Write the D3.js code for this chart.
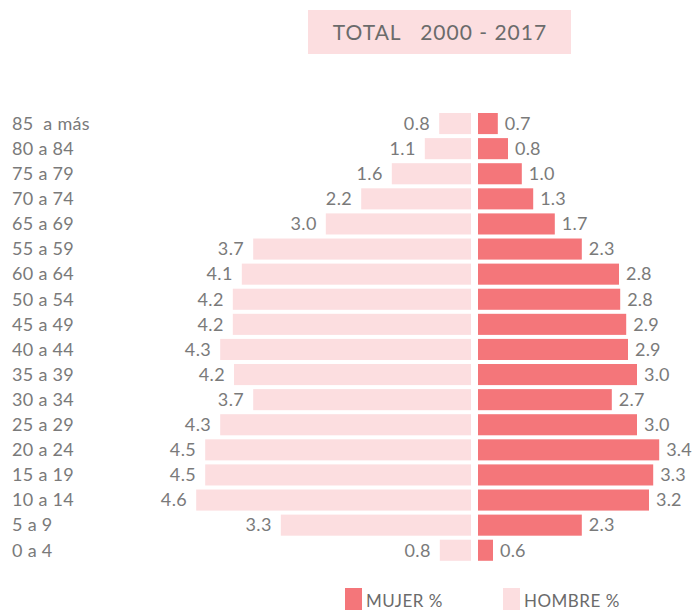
<!DOCTYPE html>
<html>
<head>
<meta charset="utf-8">
<script src="https://cdn.jsdelivr.net/npm/d3@7"></script>
<style>
  body { margin: 0; background: #fff; }
  svg text { font-family: "Lato", "Open Sans", sans-serif; }
</style>
</head>
<body>
<svg id="chart" width="692" height="610"></svg>
<script>
// age groups, top to bottom as in the picture
var grupos = ["85  a más", "80 a 84", "75 a 79", "70 a 74", "65 a 69", "55 a 59", "60 a 64",
              "50 a 54", "45 a 49", "40 a 44", "35 a 39", "30 a 34", "25 a 29", "20 a 24",
              "15 a 19", "10 a 14", "5 a 9", "0 a 4"];

// printed labels (%)
var hombreLbl = [0.8, 1.1, 1.6, 2.2, 3.0, 3.7, 4.1, 4.2, 4.2, 4.3, 4.2, 3.7, 4.3, 4.5, 4.5, 4.6, 3.3, 0.8];
var mujerLbl  = [0.7, 0.8, 1.0, 1.3, 1.7, 2.3, 2.8, 2.8, 2.9, 2.9, 3.0, 2.7, 3.0, 3.4, 3.3, 3.2, 2.3, 0.6];

// bar lengths as drawn (they don't follow the labels exactly)
var hombreBar = [0.53, 0.77, 1.32, 1.83, 2.42, 3.63, 3.82, 3.97, 3.97, 4.18, 3.95, 3.63, 4.18, 4.43, 4.43, 4.58, 3.17, 0.52];
var mujerBar  = [0.33, 0.50, 0.73, 0.92, 1.28, 1.73, 2.35, 2.37, 2.47, 2.50, 2.65, 2.23, 2.65, 3.02, 2.92, 2.85, 1.73, 0.25];

var colMujer = "#f4767a",
    colHombre = "#fcdee0",
    gris = "#7a7a7a";

var svg = d3.select("#chart");

var centroIzq = 471, centroDer = 478;

var x = d3.scaleLinear().domain([0, 4.6]).range([0, 276]);
var y = d3.scaleBand().domain(grupos).range([111, 562.8]).paddingInner(0.16).paddingOuter(0.08);

var rows = grupos.map(function (g, i) {
  return { g: g, hB: hombreBar[i], mB: mujerBar[i], hL: hombreLbl[i], mL: mujerLbl[i] };
});

// title box
svg.append("rect")
  .attr("x", 308).attr("y", 10).attr("width", 263).attr("height", 44)
  .attr("fill", colHombre);
svg.append("text")
  .attr("x", 440).attr("y", 39.5)
  .attr("text-anchor", "middle")
  .attr("fill", "#6b6b6b")
  .style("font-size", "21px")
  .style("letter-spacing", "1px")
  .style("white-space", "pre")
  .text("TOTAL   2000 - 2017");

// hombre bars (left)
svg.selectAll("rect.hombre")
  .data(rows).enter().append("rect")
  .attr("class", "hombre")
  .attr("x", function (d) { return centroIzq - x(d.hB); })
  .attr("y", function (d) { return y(d.g); })
  .attr("width", function (d) { return x(d.hB); })
  .attr("height", y.bandwidth())
  .attr("fill", colHombre);

// mujer bars (right)
svg.selectAll("rect.mujer")
  .data(rows).enter().append("rect")
  .attr("class", "mujer")
  .attr("x", centroDer)
  .attr("y", function (d) { return y(d.g); })
  .attr("width", function (d) { return x(d.mB); })
  .attr("height", y.bandwidth())
  .attr("fill", colMujer);

// value labels
svg.selectAll("text.lh")
  .data(rows).enter().append("text")
  .attr("class", "lh")
  .attr("x", function (d) { return centroIzq - x(d.hB) - 9; })
  .attr("y", function (d) { return y(d.g) + y.bandwidth() / 2; })
  .attr("dy", "0.35em")
  .attr("text-anchor", "end")
  .attr("fill", gris)
  .style("font-size", "18px")
  .style("letter-spacing", "0.4px")
  .text(function (d) { return d.hL.toFixed(1); });

svg.selectAll("text.lm")
  .data(rows).enter().append("text")
  .attr("class", "lm")
  .attr("x", function (d) { return centroDer + x(d.mB) + 7; })
  .attr("y", function (d) { return y(d.g) + y.bandwidth() / 2; })
  .attr("dy", "0.35em")
  .attr("fill", gris)
  .style("font-size", "18px")
  .style("letter-spacing", "0.2px")
  .text(function (d) { return d.mL.toFixed(1); });

// age group labels
svg.selectAll("text.grupo")
  .data(grupos).enter().append("text")
  .attr("class", "grupo")
  .attr("x", 12)
  .attr("y", function (d) { return y(d) + y.bandwidth() / 2; })
  .attr("dy", "0.35em")
  .attr("fill", gris)
  .style("font-size", "18px")
  .style("letter-spacing", "0.3px")
  .style("white-space", "pre")
  .text(function (d) { return d; });

// legend
var leyenda = [
  { t: "MUJER %", c: colMujer, x: 345 },
  { t: "HOMBRE %", c: colHombre, x: 503 }
];
var lg = svg.selectAll("g.ley").data(leyenda).enter().append("g")
  .attr("transform", function (d) { return "translate(" + d.x + ",588)"; });
lg.append("rect").attr("width", 17).attr("height", 22).attr("fill", function (d) { return d.c; });
lg.append("text")
  .attr("x", 21).attr("y", 18.5)
  .attr("fill", "#6b6b6b")
  .style("font-size", "17px")
  .style("letter-spacing", "0.5px")
  .text(function (d) { return d.t; });
</script>
</body>
</html>
